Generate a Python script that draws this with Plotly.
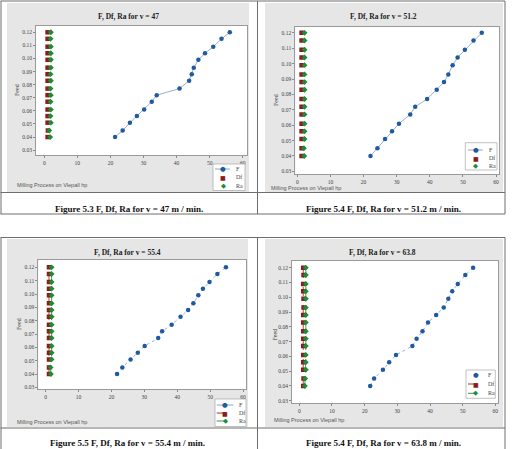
import plotly.graph_objects as go

W, H = 513, 449

# ---------------- data ----------------
titles = ["F, Df, Ra for v = 47", "F, Df, Ra for v = 51.2", "F, Df, Ra for v = 55.4", "F, Df, Ra for v = 63.8"]
captions = ["Figure 5.3 F, Df, Ra for v = 47 m / min.", "Figure 5.4 F, Df, Ra for v = 51.2 m / min.",
            "Figure 5.5 F, Df, Ra for v = 55.4 m / min.", "Figure 5.4 F, Df, Ra for v = 63.8 m / min."]
footer = "Milling Process on Vlepall hp"
y_title = "Feed"
series_names = ["F", "Df", "Ra"]

feed = [0.040, 0.045, 0.051, 0.056, 0.061, 0.067, 0.072, 0.077,
        0.083, 0.088, 0.093, 0.099, 0.104, 0.109, 0.115, 0.120]

F_47 = [21.4, 23.7, 25.9, 28.0, 30.2, 32.5, 34.0, 40.9, 43.8, 44.6, 45.2, 46.6, 48.6, 51.1, 53.6, 56.1]
F_512 = [22.1, 24.2, 26.5, 28.6, 30.7, 34.1, 35.6, 39.2, 42.1, 44.3, 45.6, 46.9, 48.4, 50.6, 53.2, 55.7]
F_554 = [21.7, 23.3, 25.8, 28.0, 30.1, 34.2, 35.4, 38.3, 41.0, 43.3, 44.9, 46.4, 47.8, 49.8, 52.2, 54.8]
F_638 = [21.7, 22.9, 25.6, 27.5, 29.6, 34.6, 35.9, 37.7, 39.4, 41.9, 44.2, 45.6, 46.8, 48.5, 50.8, 53.2]

Df_47 = [1.0, 1.1, 1.0, 1.0, 1.0, 1.0, 1.0, 1.0, 1.0, 1.0, 1.0, 1.0, 1.0, 1.0, 1.0, 1.0]
Ra_47 = [1.8, 1.5, 2.0, 1.9, 2.0, 1.9, 2.0, 1.9, 2.0, 1.9, 2.0, 2.0, 2.0, 2.0, 1.9, 2.0]
Df_512 = [1.3, 1.3, 1.3, 1.3, 1.3, 1.3, 1.3, 1.3, 1.3, 1.3, 1.3, 1.3, 1.3, 1.3, 1.3, 1.3]
Ra_512 = [2.1, 2.0, 2.2, 2.2, 2.2, 2.2, 2.2, 2.2, 2.2, 2.2, 2.2, 2.2, 2.2, 2.2, 2.2, 2.2]
Df_554 = [1.0, 1.0, 1.0, 1.0, 1.0, 1.0, 1.0, 1.0, 1.0, 1.0, 1.0, 1.0, 1.0, 1.0, 1.0, 1.0]
Ra_554 = [1.6, 1.5, 1.8, 1.8, 1.8, 1.8, 1.8, 1.8, 1.8, 1.8, 1.8, 1.8, 1.8, 1.8, 1.8, 1.8]
Df_638 = [1.2, 1.3, 1.2, 1.2, 1.2, 1.2, 1.2, 1.2, 1.2, 1.2, 1.3, 1.3, 1.2, 1.2, 1.3, 1.2]
Ra_638 = [1.7, 1.8, 2.0, 2.0, 2.0, 2.0, 2.0, 2.0, 2.0, 2.0, 2.0, 2.0, 2.0, 2.0, 2.0, 2.0]

F_series = [F_47, F_512, F_554, F_638]
Df_series = [Df_47, Df_512, Df_554, Df_638]
Ra_series = [Ra_47, Ra_512, Ra_554, Ra_638]
x_ticks = [0, 10, 20, 30, 40, 50, 60]
y_ticks = [0.03, 0.04, 0.05, 0.06, 0.07, 0.08, 0.09, 0.10, 0.11, 0.12]

# ---------------- layout geometry (pixels) ----------------
plot_px = [  # x0, x1, y0(top), y1(bottom)
    (36, 247, 26, 155),
    (295.3, 499, 26.5, 174),
    (38.3, 246, 260, 389),
    (292, 498.3, 260.7, 403),
]
x_ranges = [(-2.5, 61.3), (-0.6, 60.9), (-2.25, 60.9), (-2.23, 60.9)]
y_ranges = [(0.0263, 0.1248), (0.0283, 0.1241), (0.0288, 0.1255), (0.0285, 0.1247)]
gray_px = [(7, 249, 3, 192), (265, 503, 3, 192), (7, 248, 239, 427), (265, 503, 239, 427)]
title_pos = [(128, 16), (383, 16), (127, 252), (382, 252)]
caption_pos = [(129, 209), (383, 209), (127.5, 443.3), (383, 443.3)]
footer_pos = [(15, 185), (269, 187.5), (15, 421.7), (272, 420)]
ytitle_pos = [(17, 90), (276, 100), (19, 324), (274.5, 335)]
# legend box: x0, x1, y0, y1 ; rows y ; sample x0, x1, marker x, text x
legend_box = [(213, 245, 164, 190.5), (465.3, 497, 142.7, 170), (215, 246, 399, 426.5), (466, 495.3, 370, 398.3)]
legend_rows = [(169, 177.3, 185.6), (150, 158.3, 165.7), (405, 413, 421), (375, 384, 393.3)]
legend_sample = [(215, 230, 223, 234), (467.7, 482.7, 475.5, 487), (216.7, 233.3, 225, 236.7), (468, 482.7, 475.5, 486)]
# which legend entries show a line sample (F, Df, Ra) and its dash
legend_lines = [("solid", None, None), ("solid", None, None), ("solid", "dash", "dash"), (None, "dash", "dash")]

def px(x):
    return x / W

def py(y):
    return 1 - y / H

C_F = "#1F5A9E"
C_FL = "#7C9DC8"
C_DF = "#8E1B1B"
C_RA = "#1C8C35"
GRAY = "#E6E6E6"
LINE = "#6E6E6E"
colors_marker = [C_F, C_DF, C_RA]
colors_line = [C_FL, C_DF, C_RA]
glyphs = ["\u25CF", "\u25A0", "\u25C6"]
glyph_sizes = [6.5, 6, 6.5]

fig = go.Figure()
shapes = []
annotations = []

for i in range(4):
    sfx = "" if i == 0 else str(i + 1)
    xa, ya = "x" + sfx, "y" + sfx
    bottom = i >= 2
    fig.add_trace(go.Scatter(
        x=F_series[i], y=feed, name="F", mode="lines+markers", xaxis=xa, yaxis=ya,
        line=dict(color=C_FL, width=0.8, dash="dot" if bottom else "solid"),
        marker=dict(color=C_F, size=4.5, symbol="circle")))
    fig.add_trace(go.Scatter(
        x=Df_series[i], y=feed, name="Df", mode="lines+markers" if bottom else "markers",
        xaxis=xa, yaxis=ya,
        line=dict(color=C_DF, width=0.8, dash="dash"),
        marker=dict(color=C_DF, size=4.5, symbol="square")))
    fig.add_trace(go.Scatter(
        x=Ra_series[i], y=feed, name="Ra", mode="lines+markers" if bottom else "markers",
        xaxis=xa, yaxis=ya,
        line=dict(color=C_RA, width=0.8, dash="dash"),
        marker=dict(color=C_RA, size=4.5, symbol="diamond")))

    x0, x1, y0, y1 = plot_px[i]
    axis_common = dict(showgrid=False, zeroline=False, showline=True, mirror=True,
                       linecolor="#9A9A9A", linewidth=1, ticks="outside", ticklen=2,
                       tickcolor="#8A8A8A", tickwidth=0.8,
                       tickfont=dict(family="Liberation Serif", size=5.5, color="#444444"))
    fig.update_layout(**{
        "xaxis" + sfx: dict(domain=[px(x0), px(x1)], range=list(x_ranges[i]), anchor=ya,
                            tickvals=x_ticks, ticktext=[str(v) for v in x_ticks], **axis_common),
        "yaxis" + sfx: dict(domain=[py(y1), py(y0)], range=list(y_ranges[i]), anchor=xa,
                            tickvals=y_ticks, ticktext=["%.2f" % v for v in y_ticks], **axis_common),
    })

    gx0, gx1, gy0, gy1 = gray_px[i]
    shapes.append(dict(type="rect", xref="paper", yref="paper", layer="below",
                       x0=px(gx0), x1=px(gx1), y0=py(gy1), y1=py(gy0),
                       fillcolor=GRAY, line=dict(width=0)))
    shapes.append(dict(type="rect", xref="paper", yref="paper", layer="below",
                       x0=px(x0), x1=px(x1), y0=py(y1), y1=py(y0),
                       fillcolor="white", line=dict(width=0)))

    annotations.append(dict(text="<b>%s</b>" % titles[i], x=px(title_pos[i][0]), y=py(title_pos[i][1]),
                            xref="paper", yref="paper", showarrow=False, xanchor="center", yanchor="middle",
                            font=dict(family="Liberation Serif", size=7.5, color="#222222")))
    annotations.append(dict(text="<b>%s</b>" % captions[i], x=px(caption_pos[i][0]), y=py(caption_pos[i][1]),
                            xref="paper", yref="paper", showarrow=False, xanchor="center", yanchor="middle",
                            font=dict(family="Liberation Serif", size=9, color="#111111")))
    annotations.append(dict(text=footer, x=px(footer_pos[i][0]), y=py(footer_pos[i][1]),
                            xref="paper", yref="paper", showarrow=False, xanchor="left", yanchor="middle",
                            font=dict(family="Liberation Sans", size=5.5, color="#555555")))
    annotations.append(dict(text=y_title, x=px(ytitle_pos[i][0]), y=py(ytitle_pos[i][1]),
                            xref="paper", yref="paper", showarrow=False, xanchor="center", yanchor="middle",
                            textangle=-90,
                            font=dict(family="Liberation Serif", size=6, color="#444444")))

    # compact legend (box, sample lines, marker glyphs, labels)
    bx0, bx1, by0, by1 = legend_box[i]
    shapes.append(dict(type="rect", xref="paper", yref="paper", layer="above",
                       x0=px(bx0), x1=px(bx1), y0=py(by1), y1=py(by0),
                       fillcolor="white", line=dict(color="#A8A8A8", width=0.7)))
    sx0, sx1, mx, tx = legend_sample[i]
    for k in range(3):
        ry = legend_rows[i][k]
        dash = legend_lines[i][k]
        if dash is not None:
            shapes.append(dict(type="line", xref="paper", yref="paper", layer="above",
                               x0=px(sx0), x1=px(sx1), y0=py(ry), y1=py(ry),
                               line=dict(color=colors_line[k], width=0.9, dash=dash)))
        annotations.append(dict(text=glyphs[k], x=px(mx), y=py(ry), xref="paper", yref="paper",
                                showarrow=False, xanchor="center", yanchor="middle",
                                font=dict(family="DejaVu Sans", size=glyph_sizes[k], color=colors_marker[k])))
        annotations.append(dict(text=series_names[k], x=px(tx), y=py(ry), xref="paper", yref="paper",
                                showarrow=False, xanchor="left", yanchor="middle",
                                font=dict(family="Liberation Serif", size=6, color="#444444")))

# table borders
def hline(y, xa0, xa1):
    shapes.append(dict(type="line", xref="paper", yref="paper", x0=px(xa0), x1=px(xa1),
                       y0=py(y), y1=py(y), line=dict(color=LINE, width=1)))

def vline(x, ya0, ya1):
    shapes.append(dict(type="line", xref="paper", yref="paper", x0=px(x), x1=px(x),
                       y0=py(ya0), y1=py(ya1), line=dict(color=LINE, width=1)))

for y in (1, 192.5, 214):
    hline(y, 0.5, 505)
for x in (1, 257.5, 505):
    vline(x, 1, 214)
for y in (237.5, 428):
    hline(y, 0.5, 505)
for x in (1, 257.5, 505):
    vline(x, 237.5, 449)

fig.update_layout(width=W, height=H, margin=dict(l=0, r=0, t=0, b=0),
                  paper_bgcolor="white", plot_bgcolor="rgba(0,0,0,0)",
                  shapes=shapes, annotations=annotations, showlegend=False)

fig.write_html("out.html")
